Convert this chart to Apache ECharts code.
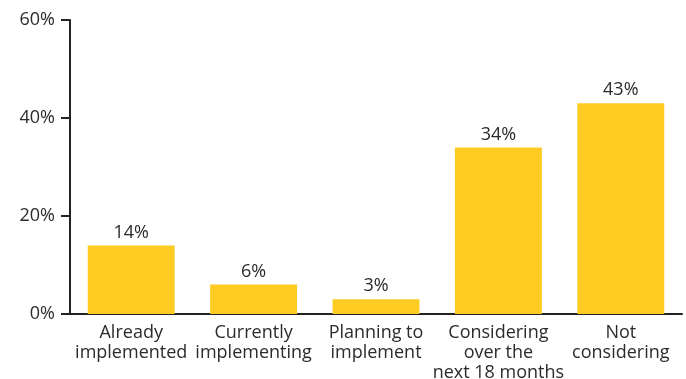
<!DOCTYPE html>
<html>
<head>
<meta charset="utf-8">
<script src="https://cdn.jsdelivr.net/npm/echarts@6/dist/echarts.min.js"></script>
<style>
  html, body { margin: 0; padding: 0; background: #fff; }
  #chart { width: 686px; height: 379px; }
</style>
</head>
<body>
<div id="chart"></div>
<script>
// Adoption status categories and share of respondents (%)
const categories = [
  'Already\nimplemented',
  'Currently\nimplementing',
  'Planning to\nimplement',
  'Considering\nover the\nnext 18 months',
  'Not\nconsidering'
];
const shares = [14, 6, 3, 34, 43];
const yTicks = [0, 20, 40, 60];

const FONT = '"Open Sans", "Liberation Sans", sans-serif';
const TEXT = '#2b2b2b';

const chart = echarts.init(document.getElementById('chart'), null, { renderer: 'canvas' });
chart.setOption({
  animation: false,
  grid: { left: 70, right: 4, top: 20, bottom: 65, containLabel: false, outerBoundsMode: 'none' },
  xAxis: {
    type: 'category',
    data: categories,
    axisLine: { lineStyle: { color: '#222', width: 2 } },
    axisTick: { show: false },
    axisLabel: {
      color: TEXT, fontFamily: FONT, fontSize: 18, lineHeight: 20,
      margin: 9, interval: 0
    }
  },
  yAxis: {
    type: 'value',
    min: yTicks[0],
    max: yTicks[yTicks.length - 1],
    interval: yTicks[1] - yTicks[0],
    axisLine: { show: true, lineStyle: { color: '#222', width: 2 } },
    axisTick: { show: true, length: 9, lineStyle: { color: '#222', width: 2 } },
    splitLine: { show: false },
    axisLabel: {
      color: TEXT, fontFamily: FONT, fontSize: 18, margin: 15,
      formatter: v => v + '%'
    }
  },
  series: [{
    type: 'bar',
    data: shares,
    barWidth: '71%',
    itemStyle: { color: '#FDCB22' },
    label: {
      show: true, position: 'top', distance: 4,
      color: TEXT, fontFamily: FONT, fontSize: 18,
      formatter: p => p.value + '%'
    }
  }]
});
</script>
</body>
</html>
